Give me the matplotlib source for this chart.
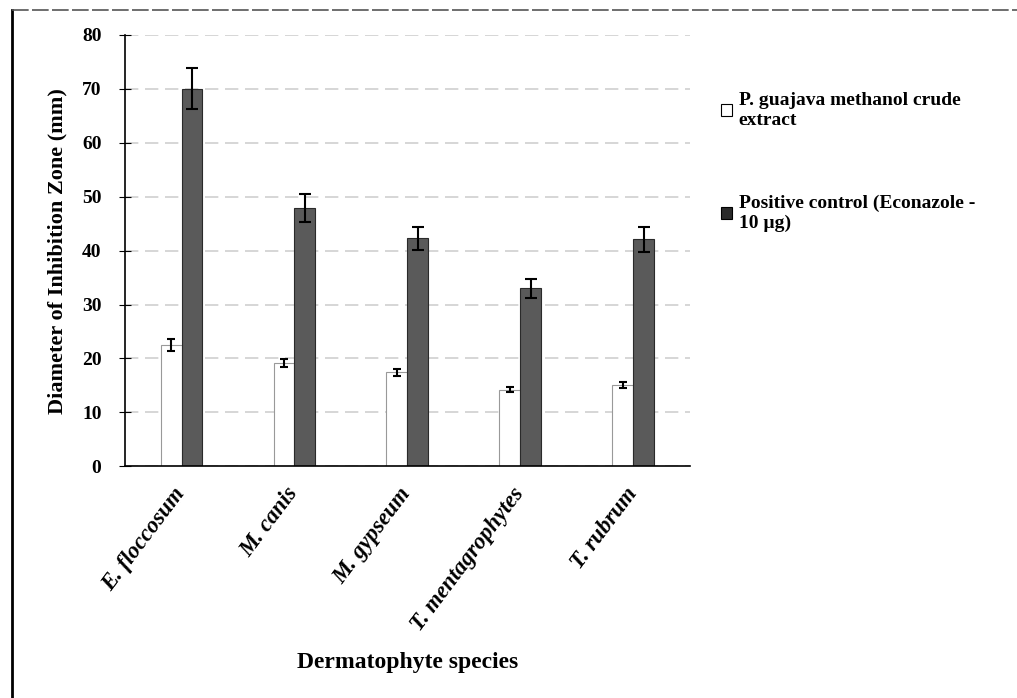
import numpy as np
import matplotlib
matplotlib.use("Agg")
import matplotlib.pyplot as plt
from matplotlib.patches import Patch
from matplotlib.lines import Line2D

species = ["E. floccosum", "M. canis", "M. gypseum", "T. mentagrophytes", "T. rubrum"]
extract = [22.5, 19.2, 17.4, 14.2, 15.1]
extract_err = [1.1, 0.7, 0.7, 0.5, 0.6]
control = [70.0, 47.9, 42.3, 33.0, 42.1]
control_err = [3.8, 2.6, 2.1, 1.8, 2.3]

plt.rcParams['font.family'] = ['Liberation Serif', 'DejaVu Serif']

fig = plt.figure(figsize=(10.17, 6.98), dpi=100)
# axes box: x 125..690 px, y 35..466 px
ax = fig.add_axes([0.123, 0.332, 0.555, 0.618])

x = np.arange(len(species))
w = 0.185

ax.bar(x - w/2, extract, w, color='white', edgecolor='#999999', linewidth=0.8,
       yerr=extract_err, capsize=3, error_kw=dict(ecolor='black', elinewidth=1.5, capthick=1.5),
       zorder=2)
ax.bar(x + w/2, control, w, color='#5a5a5a', edgecolor='#2a2a2a', linewidth=0.8,
       yerr=control_err, capsize=4, error_kw=dict(ecolor='black', elinewidth=1.5, capthick=1.5),
       zorder=2)

ax.set_xlim(-0.5, len(species) - 0.5)
ax.set_ylim(0, 80)
ax.set_yticks(np.arange(0, 81, 10))
ax.yaxis.grid(True, color='#d0d0d0', linestyle=(0, (8, 4)), linewidth=1.2, zorder=0)
ax.set_axisbelow(True)

for s in ['top', 'right']:
    ax.spines[s].set_visible(False)
ax.spines['left'].set_linewidth(1.2)
ax.spines['bottom'].set_linewidth(1.2)

ax.set_xticks(x)
ax.set_xticklabels(species, rotation=53, ha='right', va='center', rotation_mode='anchor',
                   fontstyle='italic', fontweight='bold', fontsize=16.5)
ax.tick_params(axis='x', length=0, pad=17)
ax.tick_params(axis='y', labelsize=14, length=8, direction='inout', pad=13)
for lbl in ax.get_yticklabels():
    lbl.set_fontweight('bold')

ax.set_ylabel("Diameter of Inhibition Zone (mm)", fontsize=16, fontweight='bold', labelpad=10)
ax.set_xlabel("Dermatophyte species", fontsize=17, fontweight='bold')
ax.xaxis.set_label_coords(0.50, -0.43)

handles = [Patch(facecolor='white', edgecolor='black', linewidth=0.8),
           Patch(facecolor='#2a2a2a', edgecolor='black', linewidth=0.8)]
labels = ["P. guajava methanol crude\nextract", "Positive control (Econazole -\n10 \u00b5g)"]
fig.legend(handles, labels, loc='upper left', bbox_to_anchor=(0.692, 0.893),
           frameon=False, labelspacing=3.4, handlelength=0.55,
           handleheight=0.55, handletextpad=0.35, prop=dict(weight='bold', size=14))

# figure frame lines
fig.add_artist(Line2D([0.012, 0.012], [0.0, 0.986], color='black', linewidth=2,
                      transform=fig.transFigure))
fig.add_artist(Line2D([0.012, 1.0], [0.986, 0.986], color='#555555', linewidth=1.2,
                      linestyle=(0, (10, 2)), transform=fig.transFigure))

fig.savefig("out.png", dpi=100)
